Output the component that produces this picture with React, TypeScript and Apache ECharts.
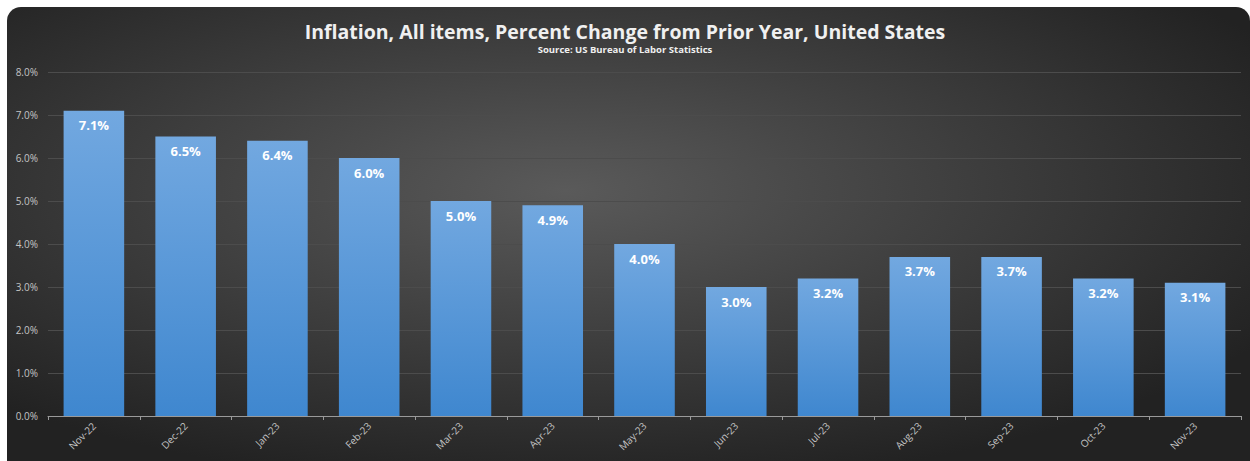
import React, { useEffect, useRef } from "react";
import * as echarts from "echarts";

const categories = ["Nov-22", "Dec-22", "Jan-23", "Feb-23", "Mar-23", "Apr-23", "May-23", "Jun-23", "Jul-23", "Aug-23", "Sep-23", "Oct-23", "Nov-23"];
const inflation = [7.1, 6.5, 6.4, 6.0, 5.0, 4.9, 4.0, 3.0, 3.2, 3.7, 3.7, 3.2, 3.1];
const titleText = "Inflation, All items, Percent Change from Prior Year, United States";
const subtitleText = "Source: US Bureau of Labor Statistics";

export default function App() {
  const ref = useRef<HTMLDivElement>(null);
  useEffect(() => {
    if (!ref.current) return;
    const chart = echarts.init(ref.current, undefined, { renderer: "svg" });
    chart.setOption({
      animation: false,
      graphic: [
        {
          type: "rect",
          z: -10,
          silent: true,
          shape: { x: 7, y: 7, width: 1243, height: 460, r: [14, 14, 0, 0] },
          style: {
            fill: new echarts.graphic.RadialGradient(0.45, 0.4, 0.65, [
              { offset: 0, color: "#5a5a5a" },
              { offset: 1, color: "#222222" },
            ]),
          },
        },
      ],
      title: {
        text: titleText,
        subtext: subtitleText,
        left: "center",
        top: 16,
        itemGap: 3,
        textStyle: { color: "#f0f0f0", fontFamily: "Open Sans", fontWeight: "bold", fontSize: 19.5 },
        subtextStyle: { color: "#f0f0f0", fontFamily: "Open Sans", fontWeight: "bold", fontSize: 9.5 },
      },
      grid: { left: 48, right: 9, top: 72, bottom: 45, containLabel: false },
      xAxis: {
        type: "category",
        data: categories,
        axisLine: { lineStyle: { color: "#9a9a9a", width: 1 } },
        axisTick: { show: true, alignWithLabel: false, length: 4, lineStyle: { color: "#9a9a9a" } },
        axisLabel: { rotate: 45, color: "#c4c4c4", fontSize: 10, fontFamily: "Open Sans", margin: 8, interval: 0 },
      },
      yAxis: {
        type: "value",
        min: 0,
        max: 8,
        interval: 1,
        axisLabel: { color: "#c4c4c4", fontSize: 10, fontFamily: "Open Sans", margin: 10, formatter: (v: number) => v.toFixed(1) + "%" },
        splitLine: { lineStyle: { color: "#4c4c4c", width: 1 } },
        axisLine: { show: false },
        axisTick: { show: false },
      },
      series: [
        {
          type: "bar",
          data: inflation,
          barWidth: "66%",
          itemStyle: {
            color: new echarts.graphic.LinearGradient(0, 0, 0, 1, [
              { offset: 0, color: "#72a8e0" },
              { offset: 1, color: "#3f87cf" },
            ]),
          },
          label: {
            show: true,
            position: "insideTop",
            distance: 8,
            color: "#ffffff",
            fontWeight: "bold",
            fontSize: 13,
            fontFamily: "Open Sans",
            formatter: (p: any) => Number(p.value).toFixed(1) + "%",
          },
        },
      ],
    });
    return () => chart.dispose();
  }, []);
  return <div ref={ref} style={{ position: "absolute", left: 0, top: 0, width: 1250, height: 461 }} />;
}
